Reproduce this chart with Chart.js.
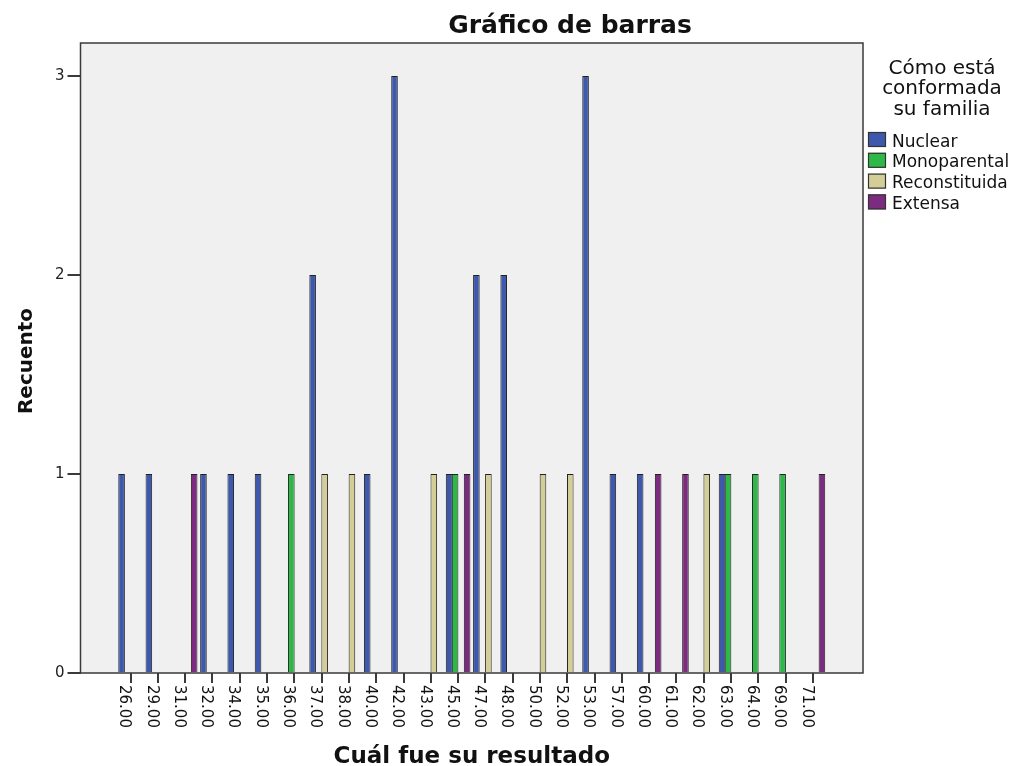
<!DOCTYPE html>
<html>
<head>
<meta charset="utf-8">
<title>Gráfico de barras</title>
<script src="https://cdn.jsdelivr.net/npm/chart.js@4.4.0/dist/chart.umd.min.js"></script>
<style>
    html, body { margin: 0; padding: 0; background: #fff; }
    #wrap { position: relative; width: 1019px; height: 766px; }
</style>
</head>
<body>
<div id="wrap"><canvas id="barChart" width="1019" height="766"></canvas></div>
<script>
// ── data ──────────────────────────────────────────
const scoreLabels = ['26.00', '29.00', '31.00', '32.00', '34.00', '35.00', '36.00', '37.00', '38.00',
    '40.00', '42.00', '43.00', '45.00', '47.00', '48.00', '50.00', '52.00', '53.00', '57.00',
    '60.00', '61.00', '62.00', '63.00', '64.00', '69.00', '71.00'];

const nuclear       = [1, 1, 0, 1, 1, 1, 0, 2, 0, 1, 3, 0, 1, 2, 2, 0, 0, 3, 1, 1, 0, 0, 1, 0, 0, 0];
const monoparental  = [0, 0, 0, 0, 0, 0, 1, 0, 0, 0, 0, 0, 1, 0, 0, 0, 0, 0, 0, 0, 0, 0, 1, 1, 1, 0];
const reconstituida = [0, 0, 0, 0, 0, 0, 0, 1, 1, 0, 0, 1, 0, 1, 0, 1, 1, 0, 0, 0, 0, 1, 0, 0, 0, 0];
const extensa       = [0, 0, 1, 0, 0, 0, 0, 0, 0, 0, 0, 0, 1, 0, 0, 0, 0, 0, 0, 1, 1, 0, 0, 0, 0, 1];

const seriesNames = ['Nuclear', 'Monoparental', 'Reconstituida', 'Extensa'];
const countTicks  = [0, 1, 2, 3];

const chartTitle  = 'Gráfico de barras';
const xTitle      = 'Cuál fue su resultado';
const yTitle      = 'Recuento';
const legendTitle = ['Cómo está', 'conformada', 'su familia'];

// ── look ──────────────────────────────────────────
const colors   = ['#3e58ac', '#2eb848', '#d3ce97', '#7b2c80'];
const FONT     = '"DejaVu Sans", Verdana, sans-serif';
const INK      = '#111';
const LINE     = '#3a3a3a';

// SPSS leaves empty cells out, but keeps the slot in the group
const toPoints = arr => arr.map((v, i) => ({ x: i, y: v > 0 ? v : null }));

const seriesValues = [nuclear, monoparental, reconstituida, extensa];
const datasets = seriesNames.map((name, k) => ({
    label: name,
    data: toPoints(seriesValues[k]),
    backgroundColor: colors[k],
    borderColor: '#222',
    borderWidth: 1,
    inflateAmount: 0,
    categoryPercentage: 0.88,
    barPercentage: 1.1
}));

const spssFrame = {
    id: 'spssFrame',
    beforeDraw(chart) {
        const { ctx, chartArea: a } = chart;
        ctx.save();
        ctx.fillStyle = '#f0f0f0';
        ctx.fillRect(a.left, a.top, a.right - a.left, a.bottom - a.top);
        ctx.restore();
    },
    afterDatasetsDraw(chart) {
        const { ctx, chartArea: a } = chart;
        ctx.save();
        ctx.strokeStyle = LINE;
        ctx.lineWidth = 1.5;
        ctx.strokeRect(a.left, a.top, a.right - a.left, a.bottom - a.top);
        ctx.restore();
    },
    afterDraw(chart) {
        const { ctx, chartArea: a } = chart;
        const xs = chart.scales.x;
        ctx.save();
        ctx.fillStyle = INK;

        // title
        ctx.font = 'bold 25px ' + FONT;
        ctx.textAlign = 'center';
        ctx.textBaseline = 'alphabetic';
        ctx.fillText(chartTitle, 570, 33);

        // x tick labels, read top to bottom
        ctx.font = '15px ' + FONT;
        ctx.textAlign = 'left';
        scoreLabels.forEach((lab, i) => {
            const px = xs.getPixelForValue(i);
            ctx.save();
            ctx.translate(px - 10.3, a.bottom + 12);
            ctx.rotate(Math.PI / 2);
            ctx.fillText(lab, 0, 0);
            ctx.restore();
        });

        // axis titles
        ctx.font = 'bold 23px ' + FONT;
        ctx.textAlign = 'center';
        ctx.fillText(xTitle, (a.left + a.right) / 2, 763);

        ctx.save();
        ctx.font = 'bold 20px ' + FONT;
        ctx.translate(32, 361);
        ctx.rotate(-Math.PI / 2);
        ctx.fillText(yTitle, 0, 0);
        ctx.restore();

        // legend
        ctx.font = '20px ' + FONT;
        ctx.textAlign = 'center';
        legendTitle.forEach((line, i) => ctx.fillText(line, 942, 74 + i * 20.3));

        ctx.font = '17px ' + FONT;
        ctx.textAlign = 'left';
        chart.data.datasets.forEach((ds, i) => {
            const cy = 139.5 + i * 20.8;
            ctx.fillStyle = ds.backgroundColor;
            ctx.fillRect(868, cy - 7.5, 18, 15);
            ctx.strokeStyle = '#333';
            ctx.lineWidth = 1.2;
            ctx.strokeRect(868.5, cy - 7, 17, 14);
            ctx.fillStyle = INK;
            ctx.fillText(ds.label, 892, cy + 7);
        });

        ctx.restore();
    }
};

new Chart(document.getElementById('barChart'), {
    type: 'bar',
    data: { datasets },
    options: {
        responsive: false,
        animation: false,
        layout: { padding: { left: 0, top: 43, right: 156, bottom: 0 } },
        scales: {
            x: {
                type: 'linear',
                offset: false,
                min: -1.835,
                max: scoreLabels.length - 1 + 1.835,
                afterBuildTicks: s => { s.ticks = scoreLabels.map((_, i) => ({ value: i })); },
                afterFit: s => { s.height = 93; },
                ticks: { display: false },
                grid: { offset: false, drawOnChartArea: false, drawTicks: true, tickLength: 10, color: LINE, lineWidth: 2 },
                border: { display: false }
            },
            y: {
                min: 0,
                max: 3.166,
                afterBuildTicks: s => { s.ticks = countTicks.map(v => ({ value: v })); },
                afterFit: s => { s.width = 80.5; },
                ticks: { color: '#222', padding: 3, font: { family: FONT, size: 15 } },
                grid: { drawOnChartArea: false, drawTicks: true, tickLength: 13, color: LINE, lineWidth: 2 },
                border: { display: false }
            }
        },
        plugins: {
            legend: { display: false },
            tooltip: { enabled: false }
        }
    },
    plugins: [spssFrame]
});
</script>
</body>
</html>
